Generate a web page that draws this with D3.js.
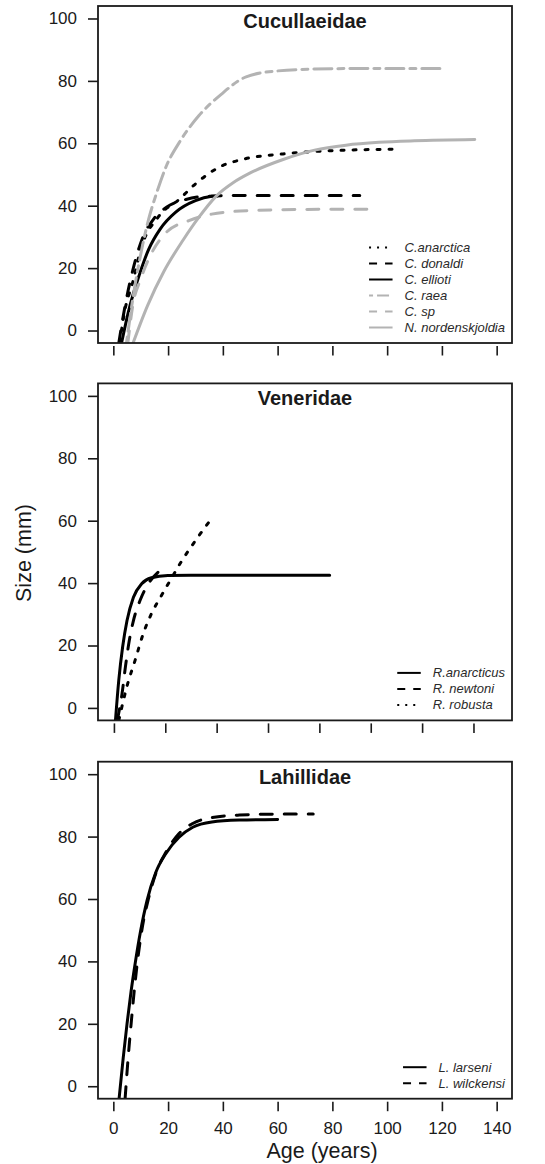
<!DOCTYPE html>
<html>
<head>
<meta charset="utf-8">
<script src="https://cdn.jsdelivr.net/npm/d3@7"></script>
<style>
  body { margin: 0; background: #fff; }
  svg { display: block; font-family: "Liberation Sans", Arial, sans-serif; }
</style>
</head>
<body>
<svg></svg>
<script>
const xTicks = [0, 20, 40, 60, 80, 100, 120, 140];
const yTicks = [0, 20, 40, 60, 80, 100];
const families = ['Cucullaeidae', 'Veneridae', 'Lahillidae'];

const cucNames = ['C.anarctica', 'C. donaldi', 'C. ellioti', 'C. raea', 'C. sp', 'N. nordenskjoldia'];
const venNames = ['R.anarcticus', 'R. newtoni', 'R. robusta'];
const lahNames = ['L. larseni', 'L. wilckensi'];

// [age, size]
const cAnarctica = [[2.3, -4], [4.1, 6], [7.1, 15.5], [10, 26], [16.5, 36.5], [24, 42], [30, 47], [39, 52.5],
  [48, 55], [62, 56.6], [74, 57.4], [85, 57.8], [102, 58.1]];
const cDonaldi = [[2, -4], [4.1, 7], [7.6, 21], [10.6, 29.5], [14.7, 35.7], [19.4, 39.5], [26.5, 42],
  [33.5, 43], [50, 43.3], [70, 43.3], [90, 43.3]];
const cEllioti = [[3, -4], [5.5, 6], [9.4, 17.6], [12.9, 26], [17.1, 32.5], [22.9, 38], [30, 41.6],
  [36, 43], [38, 43.1]];
const cRaea = [[4.8, -4], [6.4, 6], [8.3, 16.5], [10.6, 27], [12.9, 35.7], [15.9, 44.3], [19.4, 52.8],
  [24.1, 60.3], [31.2, 68.8], [39.4, 75.7], [48.5, 81.3], [60, 83.2], [80, 83.9], [100, 84], [120, 84]];
const cSp = [[5.3, -4], [7.1, 8], [10, 16.5], [13.5, 24], [19.4, 31.5], [27.6, 35.2], [35.9, 37.3],
  [48.8, 38.4], [70, 38.8], [93, 38.9]];
const nNordenskjoldia = [[7.2, -4], [12.5, 8], [18.5, 19], [25.5, 29], [31, 36], [37.5, 43], [44, 47.5],
  [50, 50.5], [62, 54.8], [73.5, 57.8], [85, 59.4], [97, 60.3], [110, 60.8], [132, 61.2]];

const rAnarcticus = [[0.6, -4], [1.9, 9], [3.4, 19.6], [5.1, 28], [7.6, 35.5], [10.8, 39.8], [14.6, 41.7],
  [21, 42.4], [30, 42.5], [50, 42.5], [70, 42.5], [84, 42.5]];
const rNewtoni = [[1.3, -4], [3.2, 4.8], [4.5, 13.3], [6, 21.7], [7.6, 28], [10.2, 34.5], [13.4, 39.8],
  [17.2, 43.5], [19.5, 45]];
const rRobusta = [[1.9, -4], [5.1, 7], [8.3, 15.4], [11.5, 24], [14.6, 30.2], [18.5, 36], [22.3, 41.4],
  [26.1, 46.7], [32.5, 54.5], [38.5, 61.2]];

const lLarseni = [[2.1, -4], [3.6, 9], [5, 20], [6.5, 30.5], [8, 39.5], [9.9, 49.5], [12.3, 59.5],
  [15.5, 68.5], [19.2, 74.6], [24, 79.8], [29, 83], [36, 84.7], [46, 85.3], [60, 85.5]];
const lWilckensi = [[4.3, -4], [5.4, 9], [6.6, 21], [7.8, 32], [9.1, 42], [10.7, 51.5], [12.8, 60],
  [15.5, 68.2], [19.2, 75], [24, 81], [29, 84.2], [36, 86.1], [46, 86.9], [60, 87.2], [73, 87.2]];

const width = 545, height = 1164;
const box = {left: 98, right: 512, height: 337};
const panelTop = [6, 383.4, 761.7];
const gray = '#b3b3b3', black = '#000';
const ink = '#1a1a1a';
const font = '"Liberation Sans", Arial, sans-serif';
// R line types, scaled by line width
const lty = {solid: [], dotted: [1, 3], dashed: [4, 4], twodash: [2, 2, 6, 2]};
const dash = (type, lwd) => lty[type].map(v => v * lwd).join(',') || null;

const panels = [
  {title: families[0], xDomain: [-5.6, 145.6], labels: false, series: [
    {name: cucNames[0], data: cAnarctica, color: black, lty: 'dotted'},
    {name: cucNames[1], data: cDonaldi, color: black, lty: 'dashed'},
    {name: cucNames[2], data: cEllioti, color: black, lty: 'solid'},
    {name: cucNames[3], data: cRaea, color: gray, lty: 'twodash'},
    {name: cucNames[4], data: cSp, color: gray, lty: 'dashed'},
    {name: cucNames[5], data: nNordenskjoldia, color: gray, lty: 'solid'}
  ]},
  {title: families[1], xDomain: [-6.2, 155], labels: false, series: [
    {name: venNames[0], data: rAnarcticus, color: black, lty: 'solid'},
    {name: venNames[1], data: rNewtoni, color: black, lty: 'dashed'},
    {name: venNames[2], data: rRobusta, color: black, lty: 'dotted'}
  ]},
  {title: families[2], xDomain: [-5.6, 145.6], labels: true, series: [
    {name: lahNames[0], data: lLarseni, color: black, lty: 'solid'},
    {name: lahNames[1], data: lWilckensi, color: black, lty: 'dashed'}
  ]}
];

const svg = d3.select('svg')
  .attr('width', width)
  .attr('height', height)
  .style('background-color', '#fff');

const innerWidth = box.right - box.left;

panels.forEach((p, i) => {
  const top = panelTop[i];
  const x = d3.scaleLinear().domain(p.xDomain).range([0, innerWidth]);
  const y = d3.scaleLinear().domain([-4, 104]).range([box.height, 0]);

  const g = svg.append('g')
    .attr('transform', `translate(${box.left}, ${top})`);

  g.append('clipPath').attr('id', `clip${i}`)
    .append('rect').attr('width', innerWidth).attr('height', box.height);

  // y axis
  const ya = g.append('g').call(d3.axisLeft(y)
    .tickValues(yTicks)
    .tickSize(10)
    .tickPadding(11));
  ya.select('.domain').remove();
  ya.selectAll('line').attr('stroke', ink).attr('stroke-width', 1.6);
  ya.selectAll('text').attr('font-size', 17).attr('fill', ink).attr('font-family', font);

  // x axis, ticks hang just below the box; labels only on the last panel
  const xa = g.append('g')
    .attr('transform', `translate(0, ${box.height + 3})`)
    .call(d3.axisBottom(x)
      .tickValues(xTicks)
      .tickSize(9.5)
      .tickPadding(10.5));
  xa.select('.domain').remove();
  xa.selectAll('line').attr('stroke', ink).attr('stroke-width', 1.6);
  if (p.labels) {
    xa.selectAll('text').attr('font-size', 17).attr('fill', ink).attr('font-family', font);
  } else {
    xa.selectAll('text').remove();
  }

  const line = d3.line()
    .x(d => x(d[0]))
    .y(d => y(d[1]))
    .curve(d3.curveMonotoneX);

  g.append('g').attr('clip-path', `url(#clip${i})`)
    .selectAll('path').data(p.series)
    .enter().append('path')
    .attr('d', d => line(d.data))
    .attr('fill', 'none')
    .attr('stroke', d => d.color)
    .attr('stroke-width', 3)
    .attr('stroke-linecap', 'round')
    .attr('stroke-linejoin', 'round')
    .attr('stroke-dasharray', d => dash(d.lty, 3));

  g.append('rect')
    .attr('width', innerWidth)
    .attr('height', box.height)
    .attr('fill', 'none')
    .attr('stroke', ink)
    .attr('stroke-width', 1.8);

  g.append('text')
    .text(p.title)
    .attr('x', innerWidth / 2)
    .attr('y', 22)
    .attr('text-anchor', 'middle')
    .attr('font-family', font)
    .attr('font-weight', 'bold')
    .attr('font-size', 20)
    .attr('fill', ink);

  // legend, bottom right, no frame
  const rowY = j => box.height - 15.5 - (p.series.length - 1 - j) * 16;
  const leg = g.append('g');
  const labels = leg.selectAll('text').data(p.series)
    .enter().append('text')
    .text(d => d.name)
    .attr('font-family', font)
    .attr('font-size', 13)
    .attr('font-style', 'italic')
    .attr('fill', '#2a2a2a')
    .attr('y', (d, j) => rowY(j) + 4.6);
  const maxW = d3.max(labels.nodes(), n => n.getComputedTextLength());
  const textX = innerWidth - 7 - maxW;
  labels.attr('x', textX);

  leg.selectAll('line').data(p.series)
    .enter().append('line')
    .attr('x1', textX - 35.5)
    .attr('x2', textX - 12)
    .attr('y1', (d, j) => rowY(j))
    .attr('y2', (d, j) => rowY(j))
    .attr('stroke', d => d.color)
    .attr('stroke-width', 2)
    .attr('stroke-dasharray', d => dash(d.lty, 2));
});

svg.append('text')
  .text('Size (mm)')
  .attr('transform', 'translate(31, 553) rotate(-90)')
  .attr('text-anchor', 'middle')
  .attr('font-family', font)
  .attr('font-size', 21.5)
  .attr('fill', ink);

svg.append('text')
  .text('Age (years)')
  .attr('x', 322)
  .attr('y', 1157.5)
  .attr('text-anchor', 'middle')
  .attr('font-family', font)
  .attr('font-size', 21.5)
  .attr('fill', ink);
</script>
</body>
</html>
